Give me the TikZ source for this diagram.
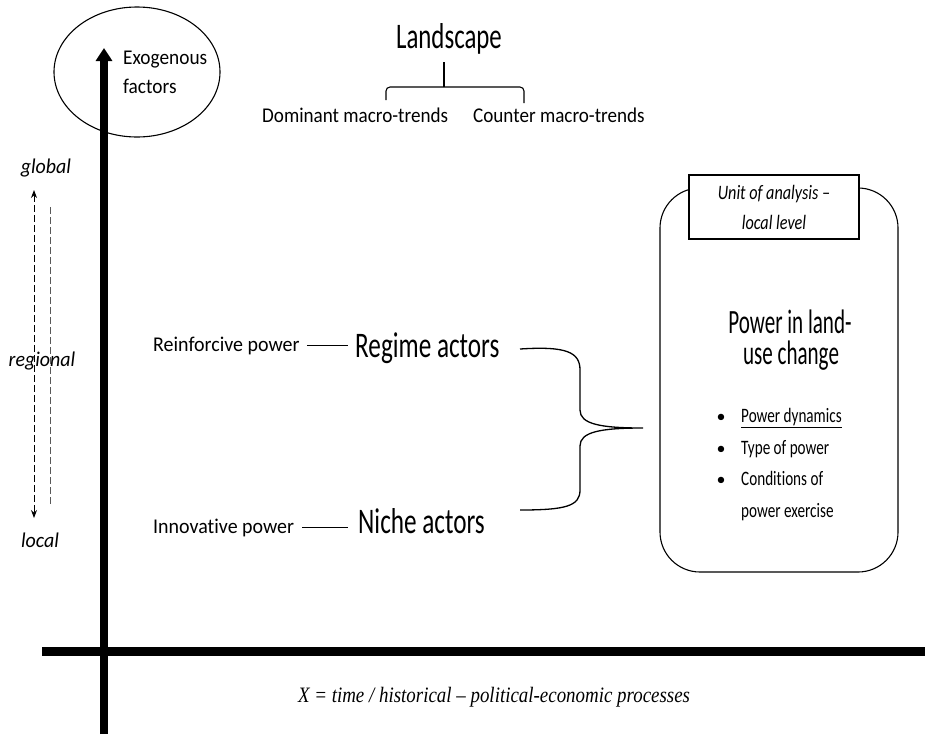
\documentclass[tikz,border=0pt]{standalone}
\usepackage{fontspec}
\setmainfont{Carlito}[Ligatures={NoCommon}]
\newfontfamily\serifface{Liberation Serif}
\usetikzlibrary{arrows.meta,shapes.geometric}
\newcommand{\hsq}[2]{\scalebox{#1}[1]{#2}}
\begin{document}
\begin{tikzpicture}[x=1pt,y=-1pt,
  every node/.style={inner sep=0pt},
  smalltxt/.style={anchor=base west,font=\fontsize{21}{25}\selectfont},
  smallit/.style={anchor=base,font=\fontsize{21}{25}\selectfont\itshape},
  bigtxt/.style={anchor=base west,font=\fontsize{36}{42}\selectfont},
  boxtxt/.style={anchor=base,font=\fontsize{34}{40}\selectfont},
  bullettxt/.style={anchor=base west,font=\fontsize{20.5}{24}\selectfont},
  thin line/.style={line width=1.1pt},
  axis/.style={line width=8pt},
  dashline/.style={line width=1pt,dash pattern=on 7pt off 3pt}
]
\fill[white] (0,0) rectangle (925,734);
\useasboundingbox (0,0) rectangle (925,734);

% axes
\coordinate (ybot) at (104,734);
\coordinate (ytop) at (104,48);
\draw[axis,-{Triangle[width=16pt,length=13pt]}] (ybot) -- (ytop);
\coordinate (xl) at (42,651);
\coordinate (xr) at (925,651);
\draw[line width=9pt] (xl) -- (xr);

% exogenous
\node[draw,thin line,ellipse,minimum width=166pt,minimum height=130pt] (exo) at (137,72) {};
\node[smalltxt] (exo1) at (123,64) {\hsq{0.92}{Exogenous}};
\node[smalltxt] (exo2) at (123,93) {\hsq{0.92}{factors}};

% landscape
\node[anchor=base,font=\fontsize{36}{42}\selectfont] (land) at (449,48) {\hsq{0.69}{Landscape}};
\node[smalltxt] (dom) at (262,122) {\hsq{0.91}{Dominant macro-trends}};
\node[smalltxt] (cnt) at (473,122) {\hsq{0.91}{Counter macro-trends}};
\coordinate (lstem) at (444,62);
\coordinate (lbar) at (444,87);
\coordinate (lleft) at (386,100);
\coordinate (lright) at (524,103);
\draw[thin line,rounded corners=4pt] (lleft) -- (lleft |- lbar) -- (lright |- lbar) -- (lright);
\draw[thin line] (lbar) -- (lstem);

% scale
\node[smallit] (glob) at (46,173) {\hsq{0.95}{global}};
\node[smallit] (reg) at (42,366) {\hsq{0.95}{regional}};
\node[smallit] (loc) at (40,547) {\hsq{0.95}{local}};
\coordinate (d1t) at (34,190);
\coordinate (d1b) at (34,518);
\draw[dashline,{Stealth[length=8pt,width=6pt]}-{Stealth[length=8pt,width=6pt]}] (d1t) -- (d1b);
\coordinate (d2t) at (50,207);
\coordinate (d2b) at (50,507);
\draw[dashline,black!65] (d2t) -- (d2b);

% actors
\node[smalltxt] (reinf) at (153,351) {\hsq{0.95}{Reinforcive power}};
\node[bigtxt] (regime) at (355,357) {\hsq{0.7}{Regime actors}};
\node[smalltxt] (innov) at (153,533) {\hsq{0.95}{Innovative power}};
\node[bigtxt] (niche) at (358,533) {\hsq{0.7}{Niche actors}};
\draw[thin line,shorten <=7pt,shorten >=7pt] (reinf.east) -- (reinf.east -| regime.west);
\draw[thin line,shorten <=8pt,shorten >=10pt] (innov.east) -- (innov.east -| niche.west);

% brace
\coordinate (b1) at (520,349);
\coordinate (b2) at (520,510);
\coordinate (btip) at (643,428);
\draw[line width=1.3pt] (b1) .. controls (566,346) and (580,352) .. (580,370) -- (580,410)
  .. controls (580,424) and (600,428) .. (btip)
  .. controls (600,428) and (580,432) .. (580,446) -- (580,490)
  .. controls (580,506) and (566,510) .. (b2);

% unit of analysis
\node[draw,thin line,rounded corners=40pt,minimum width=238pt,minimum height=384pt] (unit) at (779,380) {};
\node[draw,thin line,fill=white,minimum width=170pt,minimum height=64pt,align=center,
  font=\fontsize{20.5}{30}\selectfont\itshape] (lbl) at (774,207) {\hsq{0.79}{Unit of analysis –}\\\hsq{0.79}{local level}};
\node[boxtxt] (pw1) at (790,333) {\hsq{0.62}{Power in land-}};
\node[boxtxt] (pw2) at (791,364) {\hsq{0.62}{use change}};
\node[bullettxt] (bl1) at (741,422) {\hsq{0.74}{\underline{Power dynamics}}};
\node[bullettxt] (bl2) at (741,454) {\hsq{0.74}{Type of power}};
\node[bullettxt] (bl3) at (741,485) {\hsq{0.74}{Conditions of}};
\node[bullettxt] (bl4) at (741,517) {\hsq{0.74}{power exercise}};
\foreach \n/\yy in {a/422,b/454,c/485}{
  \node[anchor=base,font=\fontsize{18}{22}\selectfont] (dot\n) at (721,\yy) {•};
}

% x axis label
\node[font=\serifface\fontsize{22}{26}\selectfont\itshape] (xlab) at (494,697) {\hsq{0.86}{X = time / historical – political-economic processes}};
\end{tikzpicture}
\end{document}
